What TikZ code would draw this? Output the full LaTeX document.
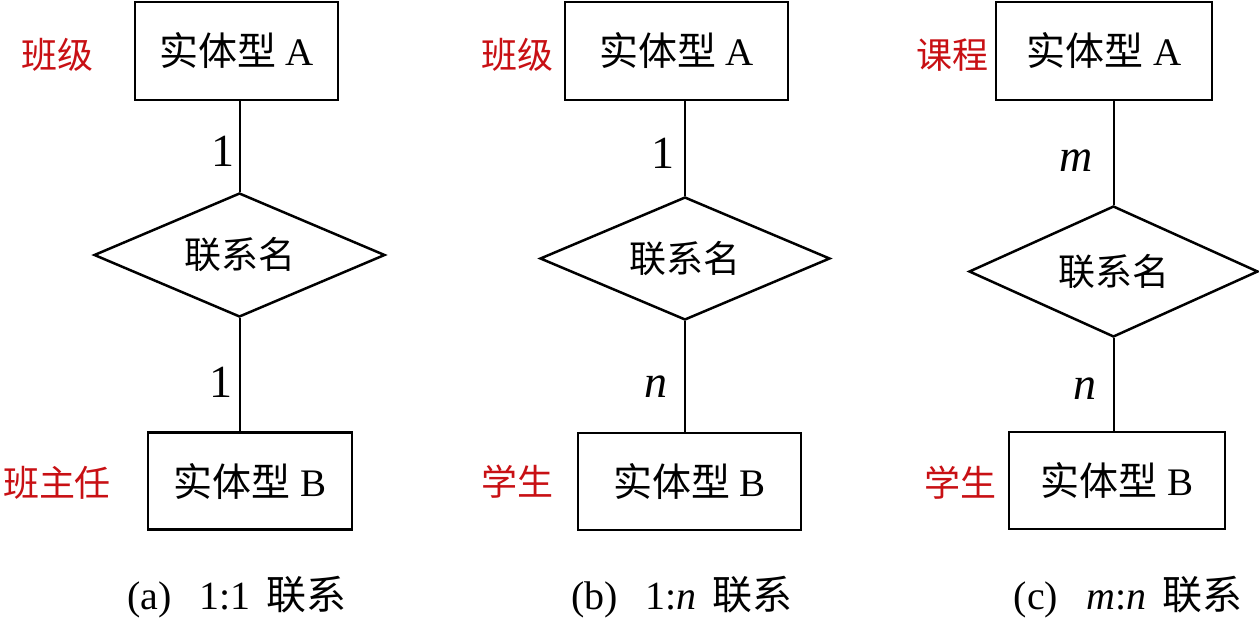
\documentclass[tikz,border=0pt]{standalone}
\usepackage{fontspec}
\setmainfont{Liberation Serif}
\newfontfamily\songti{Noto Sans CJK SC}
\newfontfamily\heiti{Noto Sans CJK SC}
\usetikzlibrary{shapes.geometric}
\definecolor{notered}{RGB}{200,16,20}
\newcommand{\zh}[1]{{\songti #1}}

\begin{document}
\begin{tikzpicture}[x=1pt, y=-1pt,
    every node/.style={font=\fontsize{39}{41}\selectfont},
    entity/.style={rectangle, draw, line width=2.5pt, inner sep=0pt},
    relation/.style={diamond, aspect=2.4, draw, line width=2.5pt, inner sep=0pt,
                     font=\fontsize{37}{39}\selectfont},
    link/.style={line width=2pt},
    card/.style={font=\fontsize{46}{48}\selectfont, inner sep=0pt},
    note/.style={font=\heiti\fontsize{36}{38}\selectfont, text=notered},
    caption/.style={font=\fontsize{40}{42}\selectfont},
]
    \useasboundingbox (0,0) rectangle (1259,621);

    % (a) 1:1
    \node[entity, minimum width=203pt, minimum height=98pt] (ea1) at (236.5,51) {\zh{实体型} A};
    \node[relation, minimum width=291pt, minimum height=124pt] (ra) at (239.5,255) {\zh{联系名}};
    \node[entity, minimum width=204pt, minimum height=97pt] (eb1) at (250,481) {\zh{实体型} B};
    \draw[link] (ra.north |- ea1.south) -- node[card, pos=.55, left=4pt] {1} (ra.north);
    \draw[link] (ra.south) -- node[card, pos=.57, left=6pt] {1} (ra.south |- eb1.north);
    \node[note] (na1) at (57,55) {班级};
    \node[note] (nb1) at (57,483) {班主任};
    \node[caption] (capa) at (237,597) {(a)\hspace{0.7em}1:1\hspace{0.4em}\zh{联系}};

    % (b) 1:n
    \node[entity, minimum width=223pt, minimum height=98pt] (ea2) at (676.5,51) {\zh{实体型} A};
    \node[relation, minimum width=290pt, minimum height=123pt] (rb) at (685,258.5) {\zh{联系名}};
    \node[entity, minimum width=223pt, minimum height=97pt] (eb2) at (689.5,481.5) {\zh{实体型} B};
    \draw[link] (rb.north |- ea2.south) -- node[card, pos=.55, left=10pt] {1} (rb.north);
    \draw[link] (rb.south) -- node[card, pos=.59, left=17pt] {\textit{n}} (rb.south |- eb2.north);
    \node[note] (na2) at (517,55) {班级};
    \node[note] (nb2) at (517,482) {学生};
    \node[caption] (capb) at (682,597) {(b)\hspace{0.7em}1:\textit{n}\hspace{0.4em}\zh{联系}};

    % (c) m:n
    \node[entity, minimum width=216pt, minimum height=98pt] (ea3) at (1104,51) {\zh{实体型} A};
    \node[relation, minimum width=289pt, minimum height=131pt] (rc) at (1113.5,271.5) {\zh{联系名}};
    \node[entity, minimum width=216pt, minimum height=97pt] (eb3) at (1117,480.5) {\zh{实体型} B};
    \draw[link] (rc.north |- ea3.south) -- node[card, pos=.57, left=20pt] {\textit{m}} (rc.north);
    \draw[link] (rc.south) -- node[card, pos=.55, left=16pt] {\textit{n}} (rc.south |- eb3.north);
    \node[note] (na3) at (952,55) {课程};
    \node[note] (nb3) at (960,483) {学生};
    \node[caption] (capc) at (1128,597) {(c)\hspace{0.7em}\textit{m}:\textit{n}\hspace{0.4em}\zh{联系}};
\end{tikzpicture}
\end{document}
